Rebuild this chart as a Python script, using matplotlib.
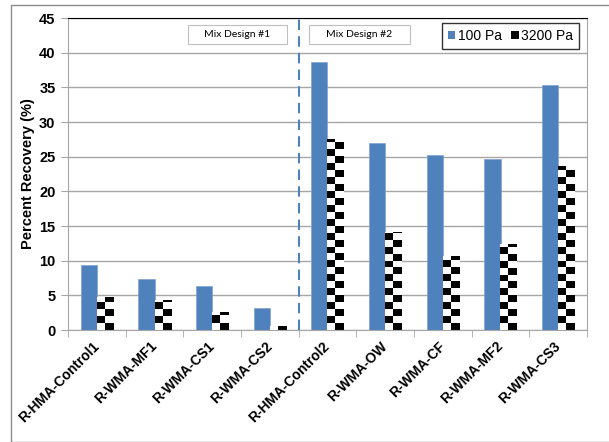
import numpy as np
import matplotlib
matplotlib.use("Agg")
import matplotlib.pyplot as plt
from matplotlib.colors import ListedColormap
from matplotlib.patches import Patch, Rectangle

plt.rcParams['font.family'] = ['Liberation Sans', 'DejaVu Sans']

categories = ["R-HMA-Control1", "R-WMA-MF1", "R-WMA-CS1", "R-WMA-CS2",
              "R-HMA-Control2", "R-WMA-OW", "R-WMA-CF", "R-WMA-MF2", "R-WMA-CS3"]
pa_100 = [9.4, 7.4, 6.4, 3.2, 38.7, 27.0, 25.2, 24.6, 35.3]
pa_3200 = [4.8, 4.3, 2.6, 0.6, 27.6, 14.1, 10.7, 12.4, 23.6]
yticks = [0, 5, 10, 15, 20, 25, 30, 35, 40, 45]

blue = '#4F81BD'
grey = '#A6A6A6'

fig = plt.figure(figsize=(6.09, 4.42), dpi=100)
ax = fig.add_axes([68/609, 1 - 330/442, 519/609, 312/442])

x = np.arange(len(categories))
w = 0.283
bars1 = ax.bar(x - w/2, pa_100, w, color=blue, edgecolor='#7FA3D0', linewidth=0.5, zorder=2)
bars2 = ax.bar(x + w/2, pa_3200, w, color='white', edgecolor='none', zorder=2)

# checkerboard fill for the 3200 Pa bars
checker = ListedColormap(['white', 'black'])
for b in bars2:
    x0, bw, h = b.get_x(), b.get_width(), b.get_height()
    ny = int(np.ceil(h))
    grid = np.indices((ny, 2)).sum(axis=0) % 2
    im = ax.imshow(grid, cmap=checker, extent=(x0, x0 + bw, 0, ny), origin='lower',
                   aspect='auto', interpolation='nearest', zorder=2.5, vmin=0, vmax=1)
    im.set_clip_path(b)

ax.set_xlim(-0.5, len(categories) - 0.5)
ax.set_ylim(0, 45)
ax.set_yticks(yticks)
ax.set_yticklabels([str(v) for v in yticks], fontsize=10.5, fontweight='bold')
ax.yaxis.grid(True, color=grey, linewidth=1, zorder=0)
ax.set_axisbelow(True)

ax.set_xticks(x)
ax.set_xticklabels(categories, rotation=45, ha='right', va='center',
                   rotation_mode='anchor', fontsize=10, fontweight='bold')
ax.set_xticks(np.arange(-0.5, len(categories)), minor=True)
ax.tick_params(axis='x', which='major', length=0, pad=10)
ax.tick_params(axis='x', which='minor', length=5, color=grey)
ax.tick_params(axis='y', length=5, color=grey, pad=4)

for s in ['left', 'bottom', 'right']:
    ax.spines[s].set_color(grey)
ax.spines['top'].set_color('black')

ax.set_ylabel('Percent Recovery (%)', fontsize=10.5, fontweight='bold', labelpad=3)

# divider between mix designs
ax.axvline(3.5, color=blue, linestyle=(0, (5, 3)), linewidth=1.5, zorder=3)

# mix design boxes
for x0, x1, label in [(0.231, 0.422, 'Mix Design #1'), (0.464, 0.659, 'Mix Design #2')]:
    ax.add_patch(Rectangle((x0, 0.917), x1 - x0, 0.061, transform=ax.transAxes,
                           facecolor='white', edgecolor='#BFBFBF', linewidth=0.8, zorder=4))
    ax.text((x0 + x1) / 2, 0.9475, label, transform=ax.transAxes, ha='center', va='center',
            fontsize=7.5, family=['Lato', 'DejaVu Sans'], zorder=5)

handles = [Patch(facecolor=blue, label='100 Pa'), Patch(facecolor='black', label='3200 Pa')]
leg = ax.legend(handles=handles, ncol=2, loc='upper right', bbox_to_anchor=(0.985, 0.985),
                fontsize=10, frameon=True, fancybox=False, handlelength=0.55, handleheight=0.55,
                handletextpad=0.15, columnspacing=0.7, borderpad=0.45, borderaxespad=0)
leg.get_frame().set_edgecolor('black')
leg.get_frame().set_linewidth(1)
leg.set_zorder(5)

fig.add_artist(Rectangle((11/609, 0.001), 1.0, 1 - 5/442 - 0.001, transform=fig.transFigure,
                         facecolor='none', edgecolor='#8C8C8C', linewidth=1))

fig.savefig('out.png', dpi=100)
